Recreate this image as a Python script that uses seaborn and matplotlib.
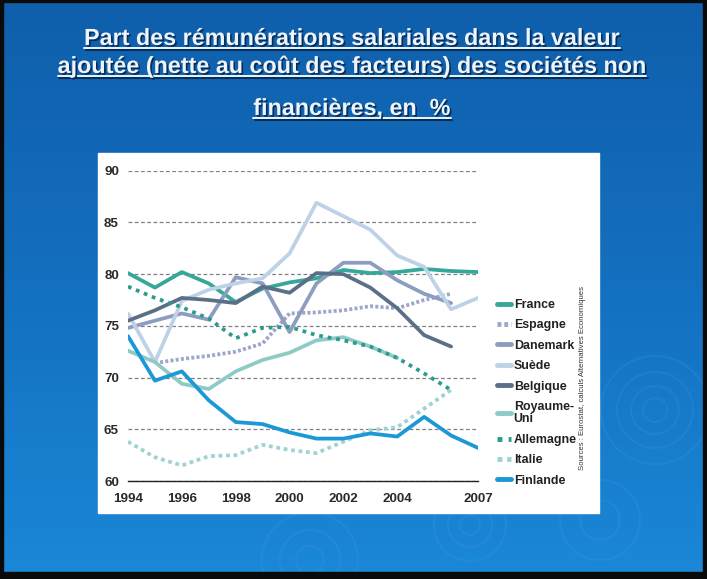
import numpy as np
import pandas as pd
import matplotlib
matplotlib.use("Agg")
import matplotlib.pyplot as plt
import matplotlib.patches as mpatches
import matplotlib.patheffects as pe
from matplotlib.lines import Line2D
from matplotlib.colors import LinearSegmentedColormap
import seaborn as sns

# --- Data ---
years = list(range(1994, 2008))
nan = np.nan
france = [80.1, 78.7, 80.2, 79.1, 77.3, 78.6, 79.2, 79.6, 80.4, 80.1, 80.2, 80.5, 80.3, 80.2]
espagne = [nan, 71.4, 71.8, 72.1, 72.5, 73.3, 76.2, 76.3, 76.5, 76.9, 76.7, 77.5, 78.1, nan]
danemark = [74.8, 75.5, 76.2, 75.6, 79.7, 79.1, 74.4, 79.1, 81.1, 81.1, 79.4, 78.1, 77.2, nan]
suede = [76.2, 71.5, 77.4, 78.5, 79.1, 79.6, 82.0, 86.9, 85.6, 84.3, 81.8, 80.7, 76.6, 77.7]
belgique = [75.5, 76.5, 77.7, 77.5, 77.2, 78.8, 78.2, 80.1, 80.0, 78.7, 76.7, 74.1, 73.0, nan]
royaume_uni = [72.6, 71.5, 69.4, 68.9, 70.6, 71.7, 72.4, 73.6, 73.9, 73.0, 71.9, nan, nan, nan]
allemagne = [78.8, 77.7, 76.8, 75.7, 73.8, 74.8, 74.9, 74.1, 73.6, 73.0, 71.9, 70.4, 68.8, nan]
italie = [63.8, 62.3, 61.5, 62.4, 62.5, 63.5, 63.0, 62.7, 63.8, 64.9, 65.2, 67.0, 68.8, nan]
finlande = [74.0, 69.7, 70.6, 67.8, 65.7, 65.5, 64.7, 64.1, 64.1, 64.6, 64.3, 66.2, 64.4, 63.2]

countries = ["France", "Espagne", "Danemark", "Suède", "Belgique",
             "Royaume-\nUni", "Allemagne", "Italie", "Finlande"]
values = [france, espagne, danemark, suede, belgique,
          royaume_uni, allemagne, italie, finlande]

x_ticks = [1994, 1996, 1998, 2000, 2002, 2004, 2007]
y_ticks = [60, 65, 70, 75, 80, 85, 90]

title_lines = ["Part des rémunérations salariales dans la valeur",
               "ajoutée (nette au coût des facteurs) des sociétés non",
               "financières, en  %"]
source = "Sources : Eurostat, calculs Alternatives Economiques"

# --- Styles ---
colors = {
    "France": "#35a79b",
    "Espagne": "#9ea6c9",
    "Danemark": "#8d9dbf",
    "Suède": "#bdd2e7",
    "Belgique": "#5b6f86",
    "Royaume-\nUni": "#8ecbc6",
    "Allemagne": "#2b9c8c",
    "Italie": "#9fd3d1",
    "Finlande": "#1b98d5",
}
styles = {
    "Espagne": (0, (0.8, 0.6)),
    "Allemagne": (0, (1.0, 1.3)),
    "Italie": (0, (1.0, 1.0)),
}

W, H = 707, 579
sns.set_theme(style="white")
plt.rcParams['font.family'] = ['Liberation Sans', 'DejaVu Sans']

fig = plt.figure(figsize=(W / 100, H / 100), dpi=100)

# --- Slide background ---
bg = fig.add_axes([0, 0, 1, 1], zorder=-10)
grad = np.linspace(0, 1, 256).reshape(-1, 1)
cmap = LinearSegmentedColormap.from_list("slide", ["#0f5fab", "#1470c0", "#1b88d8"])
bg.imshow(grad, aspect="auto", cmap=cmap, extent=[0, W, H, 0])
bg.set_xlim(0, W)
bg.set_ylim(H, 0)
bg.axis("off")

# faint ripples
for cx, cy, radii in [(655, 410, [12, 24, 38, 54]), (310, 560, [14, 30, 48]),
                      (470, 525, [10, 22, 36]), (600, 520, [20, 40])]:
    for r in radii:
        bg.add_patch(mpatches.Circle((cx, cy), r, fill=False, ec="#5aa6e2",
                                     lw=1.5, alpha=0.15))

# white chart panel and dark slide frame
bg.add_patch(mpatches.Rectangle((98, 153), 501, 360, color="white"))
for rect in [(0, 0, 3, H), (0, 0, W, 2), (703, 0, 4, H), (0, 572, W, 7)]:
    bg.add_patch(mpatches.Rectangle(rect[:2], rect[2], rect[3], color="#0a0a0a"))

# --- Chart ---
ax = fig.add_axes([128 / W, 1 - 481 / H, 350 / W, (481 - 170.7) / H])
ax.set_facecolor("none")

for name, vals in zip(countries, values):
    df = pd.DataFrame({"annee": years, "part": vals}).dropna()
    sns.lineplot(data=df, x="annee", y="part", ax=ax, color=colors[name],
                 linewidth=2.7, linestyle=styles.get(name, "-"),
                 label=name, zorder=3)

ax.set_xlim(1994, 2007)
ax.set_ylim(60, 90)
ax.set_xticks(x_ticks)
ax.set_yticks(y_ticks)
ax.set_xlabel("")
ax.set_ylabel("")
ax.yaxis.grid(True, linestyle=(0, (3, 2)), color="#808080", linewidth=0.9)
ax.xaxis.grid(False)
for side in ["top", "right", "left"]:
    ax.spines[side].set_visible(False)
ax.spines["bottom"].set_color("#222222")
ax.spines["bottom"].set_linewidth(1.0)
ax.tick_params(axis="x", direction="out", length=6, width=1, color="#222222",
               pad=3, labelsize=9.6, labelcolor="#2a2a2a")
ax.tick_params(axis="y", length=0, pad=6.5, labelsize=9.6, labelcolor="#2a2a2a")
for lab in ax.get_xticklabels() + ax.get_yticklabels():
    lab.set_fontweight("bold")

handles, labels = ax.get_legend_handles_labels()
leg = ax.legend(handles, labels, loc="upper left",
                bbox_to_anchor=(497 / W, 1 - 299 / H), bbox_transform=fig.transFigure,
                frameon=False, handlelength=1.1, handletextpad=0.25,
                labelspacing=0.68, borderpad=0, borderaxespad=0,
                prop={"weight": "bold", "size": 8.9})
for t in leg.get_texts():
    t.set_color("#222222")
    t.set_linespacing(1.05)
for h in leg.get_lines():
    h.set_linewidth(3.5)

fig.text(582 / W, 1 - 378 / H, source, rotation=90, ha="center", va="center",
         fontsize=5.6, color="#333333")

# --- Title (underlined, with shadow) ---
shadow = [pe.withSimplePatchShadow(offset=(1.2, -1.2), shadow_rgbFace="#06284d", alpha=0.9)]
baselines = [45, 73, 115]
texts = []
for line, yb in zip(title_lines, baselines):
    texts.append(fig.text(352 / W, 1 - yb / H, line, ha="center", va="baseline",
                          fontsize=16.8, fontweight="bold", color="#eef4fb",
                          path_effects=shadow))

fig.canvas.draw()
renderer = fig.canvas.get_renderer()
for t, yb in zip(texts, baselines):
    bb = t.get_window_extent(renderer)
    yl = 1 - (yb + 3) / H
    fig.add_artist(Line2D([bb.x0 / W, bb.x1 / W], [yl, yl], transform=fig.transFigure,
                          color="#eef4fb", linewidth=1.4,
                          path_effects=[pe.SimpleLineShadow(offset=(1.2, -1.2),
                                                            shadow_color="#06284d", alpha=0.9),
                                        pe.Normal()]))

fig.savefig("out.png", dpi=100)
